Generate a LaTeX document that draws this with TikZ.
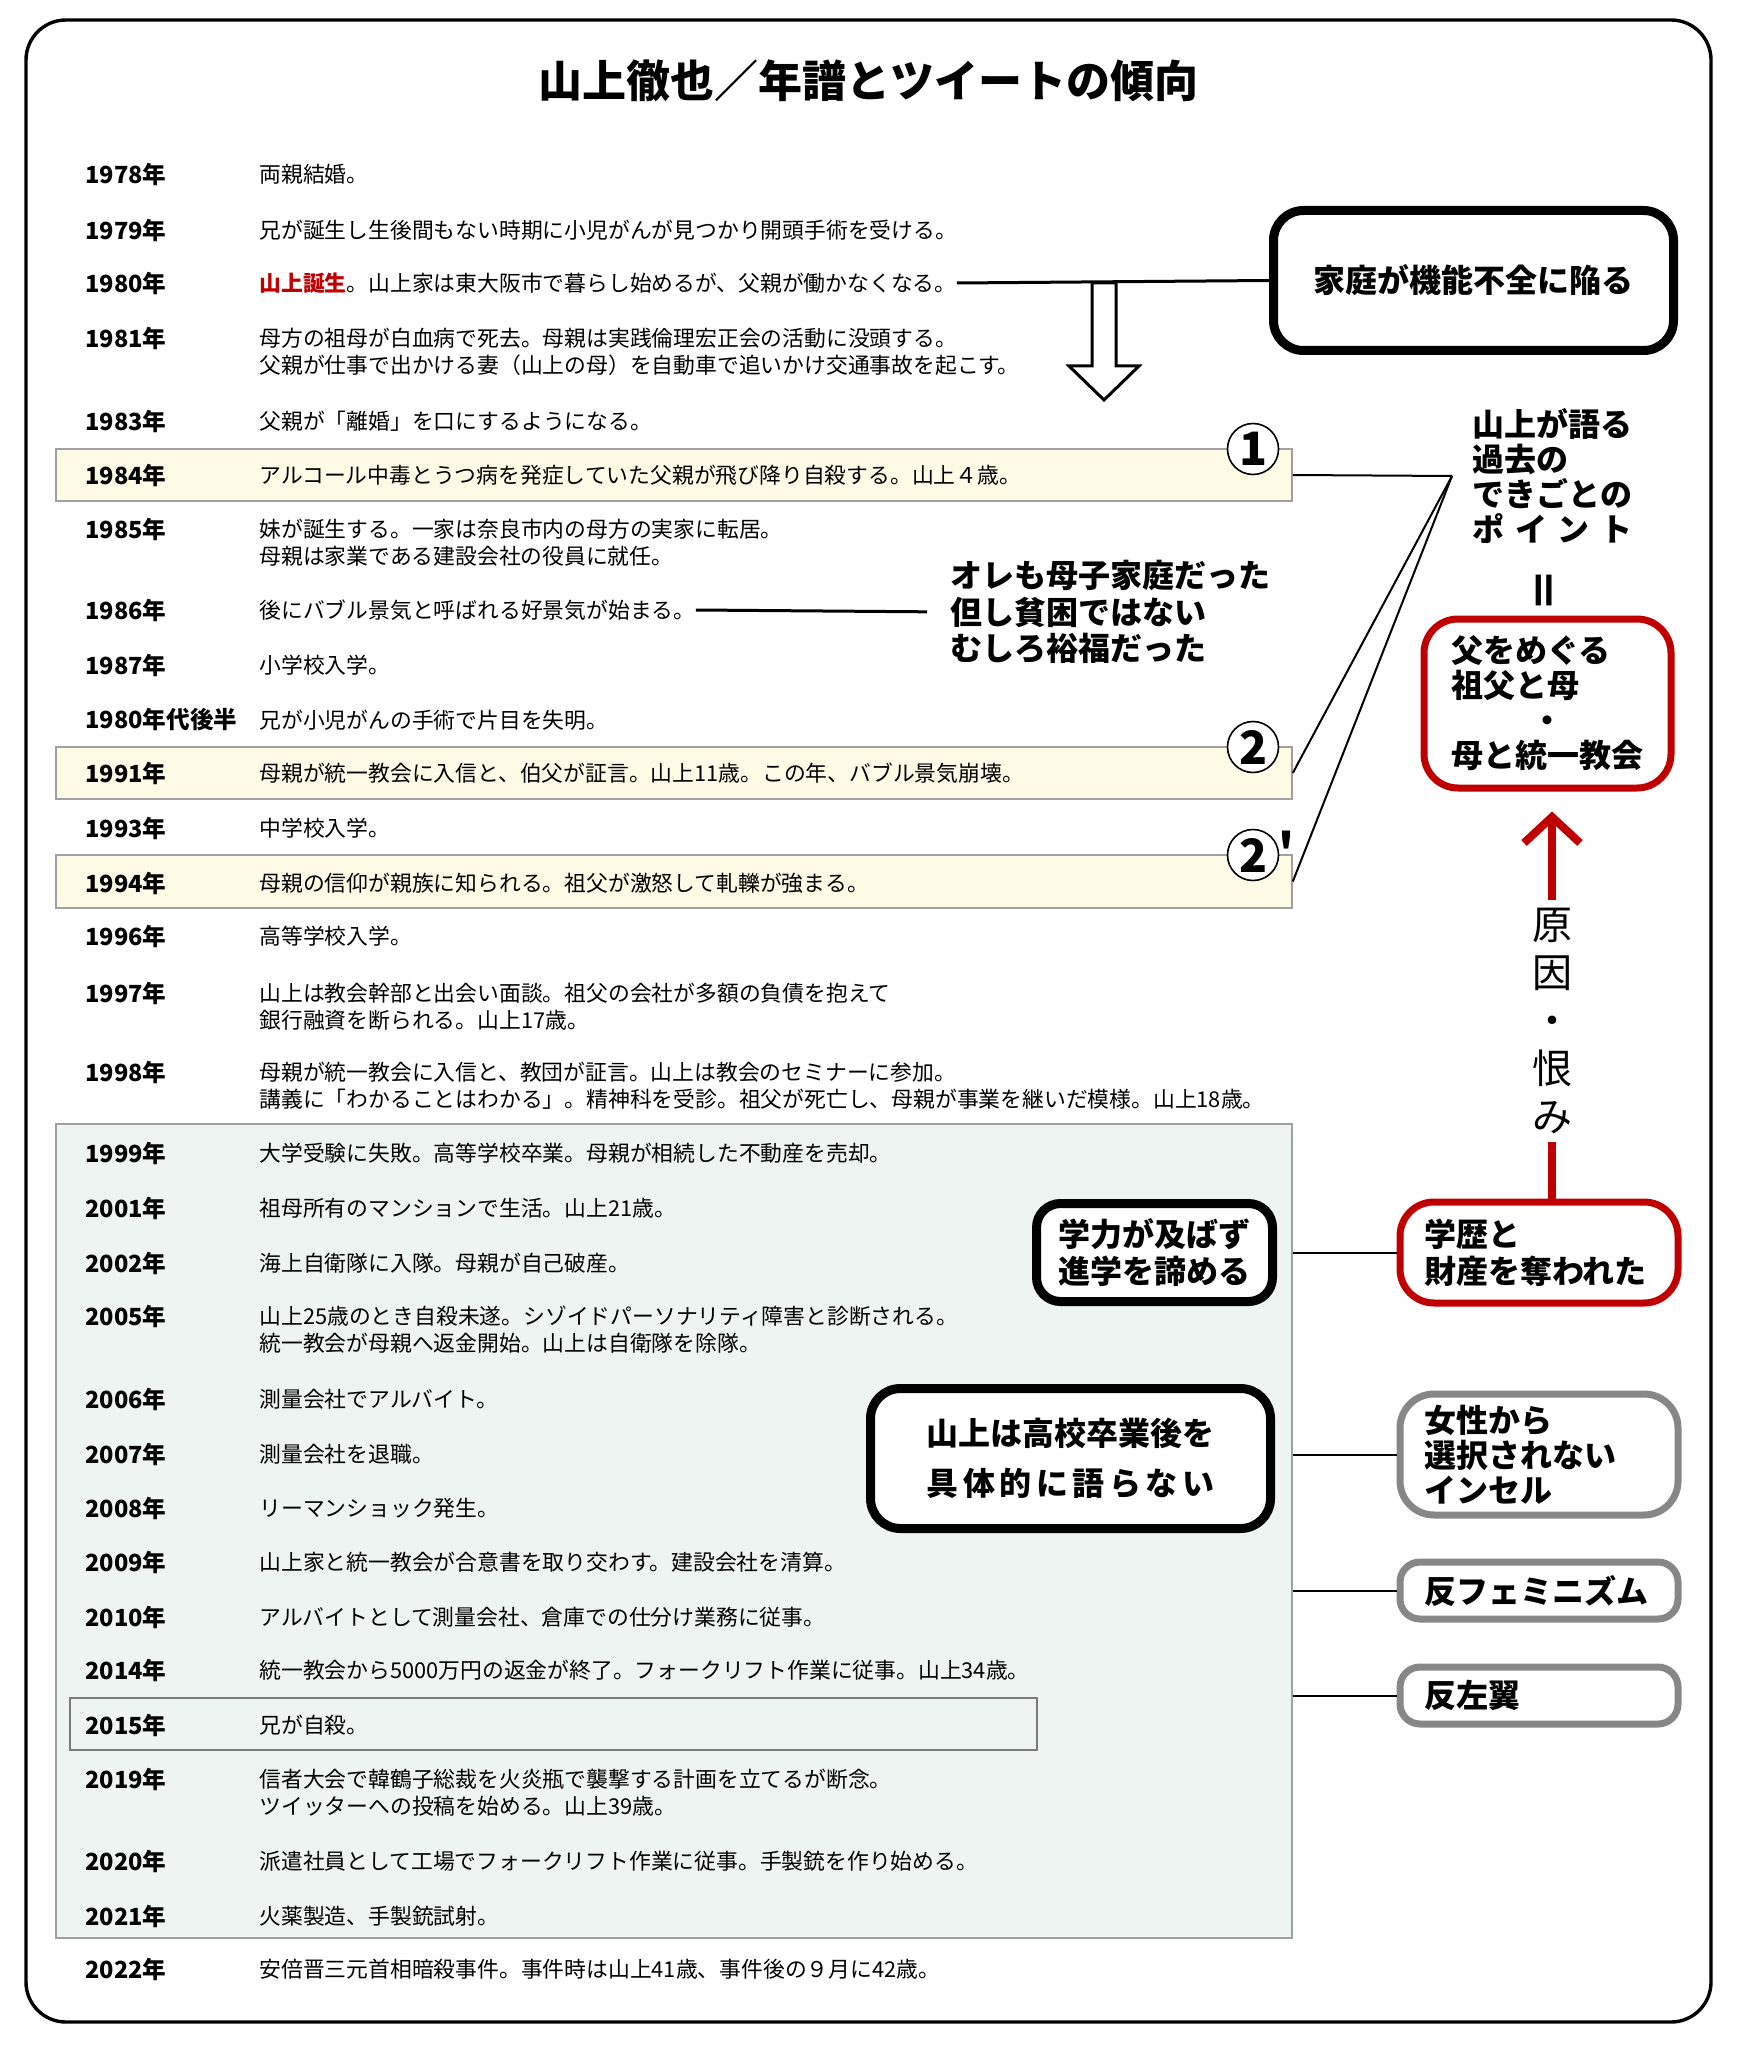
\documentclass[tikz,border=0pt]{standalone}
\usepackage{fontspec}
\setmainfont{Noto Sans CJK JP}
\usepackage{tikz}
\usetikzlibrary{arrows.meta,positioning,fit}
\definecolor{notered}{HTML}{C00000}
\definecolor{notegray}{HTML}{878787}
\definecolor{hlcream}{HTML}{FDFBE6}
\definecolor{eragreen}{HTML}{EDF4F1}
\definecolor{rulegray}{HTML}{A0A0A0}
\definecolor{darkrule}{HTML}{7A7A7A}
\tikzset{
  yearlbl/.style={anchor=west, inner sep=0pt, font=\fontsize{11.8}{13}\selectfont\bfseries},
  desclbl/.style={anchor=west, inner sep=0pt, align=left, font=\fontsize{10.9}{13.7}\selectfont},
  % background bands of the chronology
  hlbox/.style={draw=rulegray, fill=hlcream, line width=0.8pt, inner sep=0pt},
  erabox/.style={draw=rulegray, fill=eragreen, line width=0.8pt, inner sep=0pt},
  markbox/.style={draw=darkrule, line width=0.8pt, inner sep=0pt},
  % comment boxes
  keybox/.style={draw=black, fill=white, line width=4.5pt, rounded corners=15pt,
    inner sep=0pt, align=center, font=\fontsize{16}{18.5}\selectfont\bfseries},
  redbox/.style={draw=notered, fill=white, line width=3.5pt, rounded corners=17pt,
    inner sep=0pt, align=left, font=\fontsize{16}{17.5}\selectfont\bfseries},
  graybox/.style={redbox, draw=notegray},
  callout/.style={inner sep=0pt, align=left, font=\fontsize{16}{18.25}\selectfont\bfseries},
  cnum/.style={circle, draw=black, line width=0.8pt, fill=white, minimum size=25.5pt,
    inner sep=0pt, font=\fontsize{23}{23}\selectfont\bfseries},
  link/.style={line width=1.5pt, draw=black},
  pointer/.style={line width=1pt, draw=black},
  redline/.style={line width=4pt, draw=notered},
}

\begin{document}
\begin{tikzpicture}[x=0.5pt,y=-0.5pt]
  \useasboundingbox (0,0) rectangle (1737,2048);
  \fill[white] (0,0) rectangle (1737,2048);
  \draw[line width=1.7pt, rounded corners=20pt] (26,20) rectangle (1711,2022);
  \node[font=\fontsize{22}{26}\selectfont\bfseries] (title) at (868,81) {山上徹也／年譜とツイートの傾向};

  % bands
  \node[erabox, fit={(56,1124) (1292,1938)}] (era) {};
  \node[markbox, fit={(70,1698) (1037,1750)}] (b15) {};
  \node[hlbox, fit={(56,449) (1292,501)}] (b84) {};
  \node[hlbox, fit={(56,747) (1292,799)}] (b91) {};
  \node[hlbox, fit={(56,855) (1292,908)}] (b94) {};

  % chronology rows: id / y / offset of second line / year / text
  \foreach \id/\yy/\dy/\yr/\txt in {
    78/174/0/1978年/両親結婚。,
    79/230/0/1979年/兄が誕生し生後間もない時期に小児がんが見つかり開頭手術を受ける。,
    80/283/0/1980年/{\textcolor{notered}{\bfseries 山上誕生}。山上家は東大阪市で暮らし始めるが、父親が働かなくなる。},
    81/338/13.7/1981年/{母方の祖母が白血病で死去。母親は実践倫理宏正会の活動に没頭する。\\父親が仕事で出かける妻（山上の母）を自動車で追いかけ交通事故を起こす。},
    83/421/0/1983年/父親が「離婚」を口にするようになる。,
    84/475/0/1984年/アルコール中毒とうつ病を発症していた父親が飛び降り自殺する。山上４歳。,
    85/529/13.7/1985年/{妹が誕生する。一家は奈良市内の母方の実家に転居。\\母親は家業である建設会社の役員に就任。},
    86/610/0/1986年/後にバブル景気と呼ばれる好景気が始まる。,
    87/665/0/1987年/小学校入学。,
    88/720/0/1980年代後半/兄が小児がんの手術で片目を失明。,
    91/773/0/1991年/母親が統一教会に入信と、伯父が証言。山上11歳。この年、バブル景気崩壊。,
    93/828/0/1993年/中学校入学。,
    94/883/0/1994年/母親の信仰が親族に知られる。祖父が激怒して軋轢が強まる。,
    96/936/0/1996年/高等学校入学。,
    97/993/13.7/1997年/{山上は教会幹部と出会い面談。祖父の会社が多額の負債を抱えて\\銀行融資を断られる。山上17歳。},
    98/1072/13.7/1998年/{母親が統一教会に入信と、教団が証言。山上は教会のセミナーに参加。\\講義に「わかることはわかる」。精神科を受診。祖父が死亡し、母親が事業を継いだ模様。山上18歳。},
    99/1153/0/1999年/大学受験に失敗。高等学校卒業。母親が相続した不動産を売却。,
    01/1208/0/2001年/祖母所有のマンションで生活。山上21歳。,
    02/1263/0/2002年/海上自衛隊に入隊。母親が自己破産。,
    05/1316/13.7/2005年/{山上25歳のとき自殺未遂。シゾイドパーソナリティ障害と診断される。\\統一教会が母親へ返金開始。山上は自衛隊を除隊。},
    06/1399/0/2006年/測量会社でアルバイト。,
    07/1454/0/2007年/測量会社を退職。,
    08/1508/0/2008年/リーマンショック発生。,
    09/1562/0/2009年/山上家と統一教会が合意書を取り交わす。建設会社を清算。,
    10/1617/0/2010年/アルバイトとして測量会社、倉庫での仕分け業務に従事。,
    14/1670/0/2014年/統一教会から5000万円の返金が終了。フォークリフト作業に従事。山上34歳。,
    15/1725/0/2015年/兄が自殺。,
    19/1779/13.7/2019年/{信者大会で韓鶴子総裁を火炎瓶で襲撃する計画を立てるが断念。\\ツイッターへの投稿を始める。山上39歳。},
    20/1861/0/2020年/派遣社員として工場でフォークリフト作業に従事。手製銃を作り始める。,
    21/1916/0/2021年/火薬製造、手製銃試射。,
    22/1969/0/2022年/安倍晋三元首相暗殺事件。事件時は山上41歳、事件後の９月に42歳。} {
    \node[yearlbl] (y\id) at (85,\yy) {\yr};
    \node[desclbl] (d\id) at (259,\yy+\dy) {\txt};
  }

  % circled markers
  \node[cnum] (c1) at (1253,449) {1};
  \node[cnum] (c2) at (1253,747) {2};
  \node[cnum] (c2p) at (1253,855) {2};
  \node[font=\fontsize{23}{23}\selectfont\bfseries, inner sep=0pt, right=-8pt of c2p, yshift=2pt] (prime) {＇};

  % comment boxes
  \node[keybox, minimum width=200pt, minimum height=70pt] (kati) at (1473.5,280.5) {家庭が機能不全に陥る};
  \node[keybox, minimum width=118pt, minimum height=49pt, rounded corners=12pt] (gakuryoku) at (1154.5,1252.5) {学力が及ばず\\進学を諦める};
  \node[keybox, minimum width=200pt, minimum height=70pt, font=\fontsize{16}{25}\selectfont\bfseries] (koukou) at (1070.5,1458.5)
    {山上は高校卒業後を\\\makebox[9em]{具\hfill 体\hfill 的\hfill に\hfill 語\hfill ら\hfill な\hfill い}};
  \node[callout, anchor=west] (ore) at (950,612) {オレも母子家庭だった\\但し貧困ではない\\むしろ裕福だった};
  \node[callout, anchor=west, font=\fontsize{16}{17.5}\selectfont\bfseries] (kataru) at (1472,476)
    {山上が語る\\過去の\\できごとの\\\makebox[5em]{ポ\hfill イ\hfill ン\hfill ト}};
  \coordinate[left=10pt of kataru.west] (conv);
  \node[font=\fontsize{22}{22}\selectfont\bfseries, rotate=90, inner sep=0pt] (equal) at (1549,590) {＝};
  \node[redbox, minimum width=123.5pt, minimum height=84.5pt] (chichi) at (1547.5,703.5)
    {父をめぐる\\祖父と母\\\makebox[6em]{・}\\母と統一教会};
  \node[redbox, minimum width=139pt, minimum height=50.5pt, text width=115pt,
    font=\fontsize{16}{18.5}\selectfont\bfseries] (gakureki) at (1539,1252.5) {学歴と\\財産を奪われた};
  \node[graybox, minimum width=139pt, minimum height=60.5pt, text width=115pt] (josei) at (1539,1454.5)
    {女性から\\選択されない\\インセル};
  \node[graybox, minimum width=139pt, minimum height=28.5pt, text width=115pt, rounded corners=10pt] (hanfemi) at (1539,1590.5) {反フェミニズム};
  \node[graybox, minimum width=139pt, minimum height=28.5pt, text width=115pt, rounded corners=10pt] (hansayoku) at (1539,1695.5) {反左翼};
  \node[font=\fontsize{20}{24}\selectfont, align=center, inner sep=0pt, outer sep=4pt] (urami) at (1552,1021) {原\\因\\・\\恨\\み};

  % connectors
  \draw[link] (d80.east) -- (kati.west);
  \coordinate (drop) at (1104,283);
  \draw[line width=1.5pt, fill=white] (drop) ++(-12,0) -- ++(0,83) -- ++(-23,0) -- ++(35,34)
    -- ++(35,-34) -- ++(-23,0) -- ++(0,-83) -- cycle;
  \draw[link, shorten >=11.5pt] (d86.east) -- (ore.west);
  \draw[pointer] (b84.east) -- (conv);
  \draw[pointer] (conv) -- (b91.east);
  \draw[pointer] (conv) -- (b94.east);
  \draw[pointer] (era.east |- gakureki.west) -- (gakureki.west);
  \draw[pointer] (era.east |- josei.west) -- (josei.west);
  \draw[pointer] (era.east |- hanfemi.west) -- (hanfemi.west);
  \draw[pointer] (era.east |- hansayoku.west) -- (hansayoku.west);
  \draw[redline] (gakureki.north -| urami.south) -- (urami.south);
  \draw[redline, -{Straight Barb[length=13pt, width=28pt]}, shorten >=10pt] (urami.north) -- (chichi.south -| urami.north);
\end{tikzpicture}
\end{document}
